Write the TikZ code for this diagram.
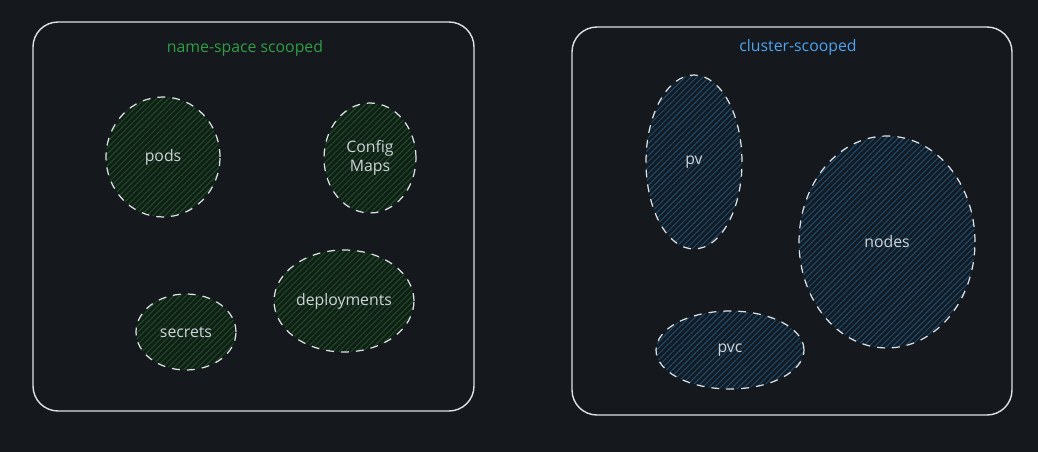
\documentclass[tikz,border=0pt]{standalone}
\usepackage{fontspec}
\setmainfont{Open Sans}
\usetikzlibrary{shapes.geometric,patterns.meta}

\definecolor{bgdark}{HTML}{15181D}
\definecolor{edgegray}{HTML}{DDE1E5}
\definecolor{txtgray}{HTML}{CED4DA}
\definecolor{nsgreen}{HTML}{2F9E44}
\definecolor{clblue}{HTML}{4DA3F0}
\definecolor{hatchgreen}{HTML}{1B4E28}
\definecolor{basegreen}{HTML}{121F17}
\definecolor{hatchblue}{HTML}{1E4C6C}
\definecolor{baseblue}{HTML}{131C25}

\begin{document}
\begin{tikzpicture}[x=0.02cm,y=-0.02cm,
    scopebox/.style={draw=edgegray, line width=0.8pt, rounded corners=0.5cm},
    res/.style={ellipse, inner sep=0pt, draw=edgegray, line width=0.7pt,
        dash pattern=on 4.5pt off 4pt, text=txtgray, font=\small,
        align=center},
    nsres/.style={res, preaction={fill=basegreen},
        pattern={Lines[angle=45,distance=2.4pt,line width=0.55pt]},
        pattern color=hatchgreen},
    clres/.style={res, preaction={fill=baseblue},
        pattern={Lines[angle=45,distance=2.4pt,line width=0.55pt]},
        pattern color=hatchblue}]

    % Background and picture size
    \fill[bgdark] (0,0) rectangle (1038,452);
    \useasboundingbox (0,0) rectangle (1038,452);

    % Namespace-scoped resources
    \draw[scopebox] (33,22) rectangle (474,411);
    \node[text=nsgreen, font=\small] (nstitle) at (245,48) {name-space scooped};

    \node[nsres, minimum width=2.28cm, minimum height=2.4cm] (pods) at (163,157) {pods};
    \node[nsres, minimum width=1.84cm, minimum height=2.2cm] (cfgmaps) at (370,158) {Config\\Maps};
    \node[nsres, minimum width=2.8cm, minimum height=2.04cm] (deploy) at (344,301) {deployments};
    \node[nsres, minimum width=2.0cm, minimum height=1.52cm] (secrets) at (186,332) {secrets};

    % Cluster-scoped resources
    \draw[scopebox] (572,27) rectangle (1012,415);
    \node[text=clblue, font=\small] (cltitle) at (798,47) {cluster-scooped};

    \node[clres, minimum width=1.92cm, minimum height=3.48cm] (pv) at (694,162) {pv};
    \node[clres, minimum width=3.52cm, minimum height=4.24cm] (nodes) at (887,242) {nodes};
    \node[clres, minimum width=2.96cm, minimum height=1.56cm] (pvc) at (730,350) {pvc};
\end{tikzpicture}
\end{document}
